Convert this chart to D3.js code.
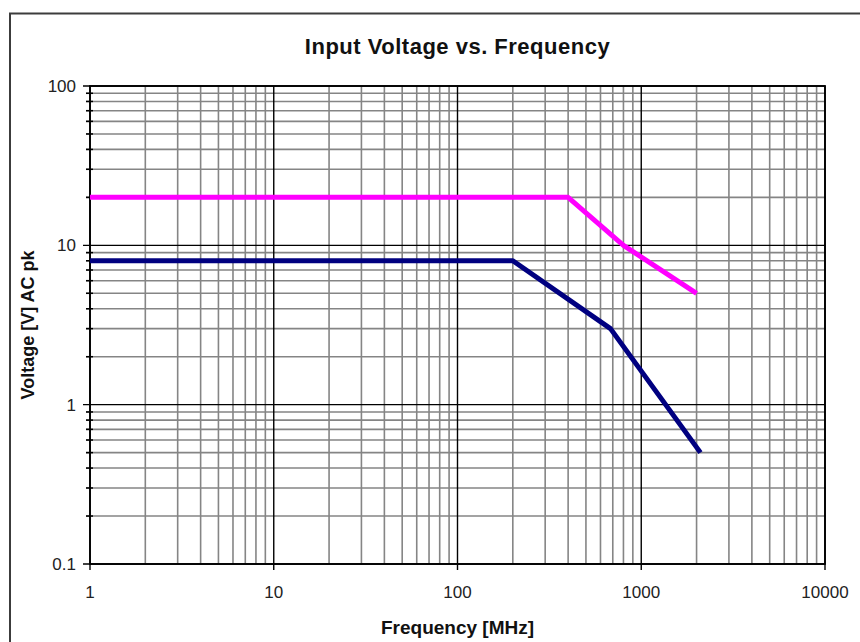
<!DOCTYPE html>
<html>
<head>
<meta charset="utf-8">
<script src="https://cdn.jsdelivr.net/npm/d3@7"></script>
<style>
  body { margin: 0; background: #fff; }
  text { font-family: "Liberation Sans", Arial, sans-serif; }
</style>
</head>
<body>
<svg id="canvas" width="860" height="642"></svg>
<script>
// data
const pinkFreq = [1, 400, 800, 2000]
const pinkVolt = [20, 20, 10, 5]
const navyFreq = [1, 200, 680, 2100]
const navyVolt = [8, 8, 3, 0.5]

const xTicks = [1, 10, 100, 1000, 10000]
const xTickLabels = ['1', '10', '100', '1000', '10000']
const yTicks = [0.1, 1, 10, 100]
const yTickLabels = ['0.1', '1', '10', '100']

const titleText = 'Input Voltage vs. Frequency'
const xTitle = 'Frequency [MHz]'
const yTitle = 'Voltage [V] AC pk'

let canvas = d3.select('#canvas')

const plotLeft = 90, plotRight = 825, plotTop = 86, plotBottom = 564

let xScale = d3.scaleLog().domain([1, 10000]).range([plotLeft, plotRight])
let yScale = d3.scaleLog().domain([0.1, 100]).range([plotBottom, plotTop])

// outer chart border (runs off the right/bottom of the picture)
canvas.append('rect')
      .attr('x', 10).attr('y', 13.5)
      .attr('width', 900).attr('height', 700)
      .attr('fill', 'white')
      .attr('stroke', '#3c3c3c')
      .attr('stroke-width', 2)

canvas.append('text')
      .attr('x', (plotLeft + plotRight) / 2)
      .attr('y', 54)
      .attr('text-anchor', 'middle')
      .attr('font-size', 22)
      .attr('font-weight', 'bold')
      .attr('letter-spacing', 0.5)
      .attr('fill', '#111')
      .text(titleText)

// minor values for each decade
const minorX = []
for (let d = 1; d < 10000; d *= 10) {
    for (let k = 2; k <= 9; k++) minorX.push(d * k)
}
const minorY = []
for (let d = 0.1; d < 99; d *= 10) {
    for (let k = 2; k <= 9; k++) minorY.push(+(d * k).toPrecision(3))
}

let grid = canvas.append('g')

grid.selectAll('line.minor-x')
    .data(minorX)
    .enter()
    .append('line')
    .attr('class', 'minor-x')
    .attr('x1', (d) => xScale(d)).attr('x2', (d) => xScale(d))
    .attr('y1', plotTop).attr('y2', plotBottom)
    .attr('stroke', '#858585')
    .attr('stroke-width', 1.6)

grid.selectAll('line.minor-y')
    .data(minorY)
    .enter()
    .append('line')
    .attr('class', 'minor-y')
    .attr('x1', plotLeft - 4).attr('x2', plotRight)
    .attr('y1', (d) => yScale(d)).attr('y2', (d) => yScale(d))
    .attr('stroke', '#858585')
    .attr('stroke-width', 1.6)

// little tick marks on the y axis at minor values
grid.selectAll('line.minor-tick')
    .data(minorY)
    .enter()
    .append('line')
    .attr('class', 'minor-tick')
    .attr('x1', plotLeft - 4).attr('x2', plotLeft + 3)
    .attr('y1', (d) => yScale(d)).attr('y2', (d) => yScale(d))
    .attr('stroke', '#000')
    .attr('stroke-width', 1.5)

grid.selectAll('line.major-x')
    .data(xTicks)
    .enter()
    .append('line')
    .attr('class', 'major-x')
    .attr('x1', (d) => xScale(d)).attr('x2', (d) => xScale(d))
    .attr('y1', plotTop).attr('y2', plotBottom + 6)
    .attr('stroke', '#000')
    .attr('stroke-width', 1.4)

grid.selectAll('line.major-y')
    .data(yTicks)
    .enter()
    .append('line')
    .attr('class', 'major-y')
    .attr('x1', plotLeft - 7).attr('x2', plotRight)
    .attr('y1', (d) => yScale(d)).attr('y2', (d) => yScale(d))
    .attr('stroke', '#000')
    .attr('stroke-width', 1.4)

// plot frame
canvas.append('rect')
      .attr('x', plotLeft).attr('y', plotTop)
      .attr('width', plotRight - plotLeft).attr('height', plotBottom - plotTop)
      .attr('fill', 'none')
      .attr('stroke', '#000')
      .attr('stroke-width', 1.8)

canvas.selectAll('text.xlab')
      .data(xTicks)
      .enter()
      .append('text')
      .attr('class', 'xlab')
      .attr('x', (d) => xScale(d))
      .attr('y', plotBottom + 34)
      .attr('text-anchor', 'middle')
      .attr('font-size', 17)
      .attr('fill', '#222')
      .text((d, i) => xTickLabels[i])

canvas.selectAll('text.ylab')
      .data(yTicks)
      .enter()
      .append('text')
      .attr('class', 'ylab')
      .attr('x', plotLeft - 14)
      .attr('y', (d) => yScale(d) + 6)
      .attr('text-anchor', 'end')
      .attr('font-size', 17)
      .attr('fill', '#222')
      .text((d, i) => yTickLabels[i])

canvas.append('text')
      .attr('x', (plotLeft + plotRight) / 2)
      .attr('y', plotBottom + 70)
      .attr('text-anchor', 'middle')
      .attr('font-size', 19)
      .attr('font-weight', 'bold')
      .attr('fill', '#111')
      .text(xTitle)

canvas.append('text')
      .attr('transform', 'translate(34,' + (plotTop + plotBottom) / 2 + ') rotate(-90)')
      .attr('text-anchor', 'middle')
      .attr('font-size', 18)
      .attr('font-weight', 'bold')
      .attr('fill', '#111')
      .text(yTitle)

let line = d3.line()
             .x((d) => xScale(d[0]))
             .y((d) => yScale(d[1]))

canvas.append('path')
      .datum(pinkFreq.map((f, i) => [f, pinkVolt[i]]))
      .attr('d', line)
      .attr('fill', 'none')
      .attr('stroke', '#ff00ff')
      .attr('stroke-width', 5)
      .attr('stroke-linejoin', 'round')

canvas.append('path')
      .datum(navyFreq.map((f, i) => [f, navyVolt[i]]))
      .attr('d', line)
      .attr('fill', 'none')
      .attr('stroke', '#000080')
      .attr('stroke-width', 5)
      .attr('stroke-linejoin', 'round')
</script>
</body>
</html>
